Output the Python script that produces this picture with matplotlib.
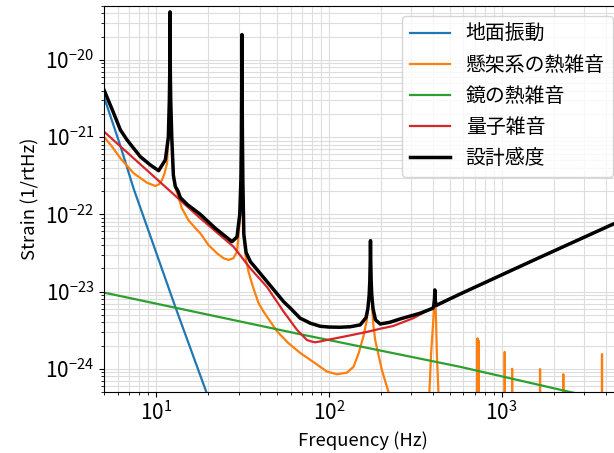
import matplotlib
matplotlib.use("Agg")
import matplotlib.pyplot as plt
from matplotlib.ticker import NullFormatter

plt.rcParams['font.family'] = ['Noto Sans CJK JP', 'DejaVu Sans']
plt.rcParams['font.size'] = 14

# noise budget curves (Hz, 1/rtHz)
labels = ['地面振動', '懸架系の熱雑音', '鏡の熱雑音', '量子雑音', '設計感度']

ground_f = [5.0, 6.22, 7.42, 8.87, 12.93, 19.54, 25.0]
ground_h = [3.32e-21, 7.7e-22, 2.15e-22, 6.93e-23, 6.32e-24, 5.0e-25, 1.0e-25]

susp_f = [5.0, 5.6, 6.22, 7.42, 8.87, 9.91, 10.4, 10.83, 11.2, 11.58,
          11.78, 11.94, 12.0, 12.03, 12.05, 12.07, 12.1, 12.16, 12.33, 12.6,
          12.93, 13.4, 14.1, 15.4, 17.26, 18.03, 20.1, 22.52, 24.6, 26.28,
          28.0, 29.4, 30.5, 31.0, 31.2, 31.33, 31.4, 31.47, 31.6, 31.8,
          32.2, 33.2, 34.3, 35.1, 36.6, 39.2, 41.9, 50.1, 58.4, 68.3,
          81.5, 97.3, 111.2, 127, 138.7, 148.7, 158.4, 165.8, 171, 172.5,
          173.4, 174.0, 174.6, 175.5, 177, 180, 185.2, 202.5, 221.1, 240,
          300, 381.4, 390.2, 401, 407, 410.1, 413, 417, 421.1, 430.2,
          500, 720, 724, 728, 732, 736, 740, 1035, 1040, 1045,
          1143, 1148, 1153, 1658, 1665, 1672, 2260, 2270, 2280, 3785,
          3800, 3815, 5000]
susp_h = [1.015e-21, 7.4e-22, 5.33e-22, 3.41e-22, 2.57e-22, 2.33e-22, 2.45e-22, 2.79e-22, 3.4e-22, 4.59e-22,
          9.5e-22, 2.9e-21, 6.4e-21, 1.4e-20, 4.2e-20, 1.4e-20, 6.4e-21, 2.9e-21, 9.5e-22, 3.0e-22,
          2.2e-22, 1.75e-22, 1.2e-22, 8.4e-23, 6.28e-23, 5.69e-23, 4.01e-23, 3.13e-23, 2.7e-23, 2.57e-23,
          2.7e-23, 3.29e-23, 8e-23, 2.9e-22, 1.0e-21, 5.0e-21, 2.13e-20, 5.0e-21, 1.0e-21, 2.4e-22,
          5.0e-23, 2.5e-23, 1.8e-23, 1.5e-23, 1.1e-23, 7.05e-24, 5.49e-24, 3.05e-24, 2.14e-24, 1.6e-24,
          1.22e-24, 9.2e-25, 8.49e-25, 8.9e-25, 1.06e-24, 1.59e-24, 2.63e-24, 4.29e-24, 8.8e-24, 1.38e-23,
          2.5e-23, 4.56e-23, 2.5e-23, 1.38e-23, 8.5e-24, 4.0e-24, 2.36e-24, 9.65e-25, 5.0e-25, 3.0e-25,
          1.0e-25, 5.0e-25, 1.59e-24, 4.0e-24, 7.5e-24, 1.05e-23, 7.5e-24, 4.0e-24, 1.59e-24, 5.0e-25,
          1e-26, 1e-26, 2.48e-24, 1e-26, 1e-26, 2.3e-24, 1e-26, 1e-26, 1.65e-24, 1e-26,
          1e-26, 1.0e-24, 1e-26, 1e-26, 9.9e-25, 1e-26, 1e-26, 8.5e-25, 1e-26, 1e-26,
          1.55e-24, 1e-26, 1e-26]

mirror_f = [5.0, 68.3, 574.1, 2484, 5000]
mirror_h = [9.7e-24, 2.8e-24, 1.06e-24, 5.0e-25, 3.6e-25]

quantum_f = [5.0, 18.03, 28.1, 35.1, 43.8, 54.7, 65.3, 74.6, 79.0, 83.3,
             90.0, 97.3, 121.5, 151.7, 165.8, 198, 235.3, 307.1, 400.9, 574.1,
             1523, 4416, 5000]
quantum_h = [1.18e-21, 8.9e-23, 3.8e-23, 2.0e-23, 1.15e-23, 5.5e-24, 3.2e-24, 2.36e-24, 2.26e-24, 2.2e-24,
             2.27e-24, 2.36e-24, 2.6e-24, 2.88e-24, 3.0e-24, 3.3e-24, 3.58e-24, 4.51e-24, 6.19e-24, 9.3e-24,
             2.54e-23, 7.5e-23, 8.5e-23]

total_f = [5.0, 5.59, 6.22, 6.8, 7.42, 8.11, 9.27, 10.35, 11.32, 11.78,
           11.94, 12.0, 12.03, 12.05, 12.07, 12.1, 12.16, 12.33, 12.6, 12.93,
           13.4, 13.82, 15.11, 18.03, 22.02, 27.5, 29.4, 30.5, 31.0, 31.2,
           31.33, 31.4, 31.47, 31.6, 31.8, 32.2, 33.2, 35.1, 43.8, 54.7,
           59.8, 68.3, 73.0, 78.0, 89.1, 100, 116.2, 132.8, 151.7, 164,
           168, 171, 172.5, 173.4, 174.0, 174.6, 175.5, 177, 180, 186,
           198, 225, 258.3, 337.1, 399.3, 404, 408, 410.1, 412, 416,
           574.1, 1523, 4416, 5000]
total_h = [4.09e-21, 2.25e-21, 1.24e-21, 9.2e-22, 7.18e-22, 5.59e-22, 4.36e-22, 3.68e-22, 5.07e-22, 1.0e-21,
           3.0e-21, 6.5e-21, 1.4e-20, 4.2e-20, 1.4e-20, 6.5e-21, 3.0e-21, 1.0e-21, 3.2e-22, 2.3e-22,
           2.0e-22, 1.65e-22, 1.35e-22, 1.0e-22, 6.6e-23, 4.43e-23, 5.1e-23, 1.0e-22, 3.0e-22, 1.0e-21,
           5.0e-21, 2.13e-20, 5.0e-21, 1.0e-21, 2.5e-22, 5.5e-23, 3.2e-23, 2.45e-23, 1.35e-23, 7.4e-24,
           6.1e-24, 4.5e-24, 4.2e-24, 3.89e-24, 3.55e-24, 3.47e-24, 3.45e-24, 3.5e-24, 3.7e-24, 4.6e-24,
           6e-24, 9e-24, 1.4e-23, 2.5e-23, 4.56e-23, 2.5e-23, 1.4e-23, 9e-24, 6e-24, 4.3e-24,
           3.8e-24, 4.0e-24, 4.42e-24, 5.24e-24, 6.08e-24, 6.5e-24, 8e-24, 1.05e-23, 8e-24, 6.6e-24,
           9.3e-24, 2.54e-23, 7.5e-23, 8.5e-23]

fig = plt.figure(figsize=(6.14, 4.53), dpi=100)
# the right edge of the axes runs slightly past the figure, as in the reference crop
ax = fig.add_axes([104 / 614, 61 / 453, 518.6 / 614, 386 / 453])

ax.loglog(ground_f, ground_h, color='C0', lw=1.6, label=labels[0])
ax.loglog(susp_f, susp_h, color='C1', lw=1.6, label=labels[1])
ax.loglog(mirror_f, mirror_h, color='C2', lw=1.6, label=labels[2])
ax.loglog(quantum_f, quantum_h, color='C3', lw=1.6, label=labels[3])
ax.loglog(total_f, total_h, color='k', lw=2.5, label=labels[4])

ax.set_xlim(5, 5000)
ax.set_ylim(5e-25, 5e-20)
ax.xaxis.set_minor_formatter(NullFormatter())
ax.yaxis.set_minor_formatter(NullFormatter())
ax.tick_params(labelsize=15)
ax.grid(which='both', color='#dddddd', lw=0.8)
ax.set_axisbelow(True)
ax.set_xlabel('Frequency (Hz)', fontsize=13.3)
ax.set_ylabel('Strain (1/rtHz)', fontsize=13.3)
ax.legend(loc='upper right', fontsize=14.3)

fig.savefig('out.png', dpi=100)
